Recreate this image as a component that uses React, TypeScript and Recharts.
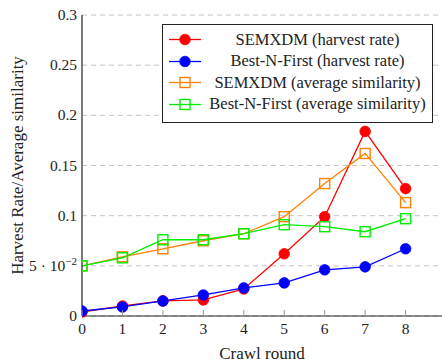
import { LineChart, Line, XAxis, YAxis, CartesianGrid, Legend, Label } from 'recharts';

// crawl rounds on the x axis
const rounds = [0, 1, 2, 3, 4, 5, 6, 7, 8];
const semxdmHarvest = [0.004, 0.01, 0.015, 0.016, 0.027, 0.062, 0.099, 0.184, 0.127];
const bnfHarvest = [0.005, 0.009, 0.015, 0.021, 0.028, 0.033, 0.046, 0.049, 0.067];
const semxdmSimilarity = [0.05, 0.059, 0.067, 0.075, 0.082, 0.099, 0.132, 0.162, 0.113];
const bnfSimilarity = [0.05, 0.058, 0.076, 0.076, 0.082, 0.091, 0.089, 0.084, 0.097];
const yTicks = [0, 0.05, 0.1, 0.15, 0.2, 0.25, 0.3];

const FONT = "'Liberation Serif', 'DejaVu Serif', serif";

const SERIES = [
  { key: 'semxdmHarvest', name: 'SEMXDM (harvest rate)', color: '#ff0000', mark: 'circle' },
  { key: 'bnfHarvest', name: 'Best-N-First (harvest rate)', color: '#0000ff', mark: 'circle' },
  { key: 'semxdmSimilarity', name: 'SEMXDM (average similarity)', color: '#ff8000', mark: 'square' },
  { key: 'bnfSimilarity', name: 'Best-N-First (average similarity)', color: '#00ee00', mark: 'square' },
];

const data = rounds.map((r, i) => ({
  round: r,
  semxdmHarvest: semxdmHarvest[i],
  bnfHarvest: bnfHarvest[i],
  semxdmSimilarity: semxdmSimilarity[i],
  bnfSimilarity: bnfSimilarity[i],
}));

function Mark({ cx, cy, color, mark }: any) {
  if (cx == null || cy == null) return null;
  if (mark === 'circle') return <circle cx={cx} cy={cy} r={5.3} fill={color} stroke={color} strokeWidth={0.8} />;
  return <rect x={cx - 5} y={cy - 5} width={10} height={10} fill="none" stroke={color} strokeWidth={1.4} />;
}

function BottomTick({ x, y, payload }: any) {
  return (
    <g>
      <line x1={x} x2={x} y1={y} y2={y - 6} stroke="#999" strokeWidth={1} />
      <text x={x} y={y + 18} textAnchor="middle" fontFamily={FONT} fontSize={15.5} fill="#222">
        {payload.value}
      </text>
    </g>
  );
}

function TopTick({ x, y }: any) {
  return <line x1={x} x2={x} y1={y} y2={y + 6} stroke="#999" strokeWidth={1} />;
}

function LeftTick({ x, y, payload }: any) {
  const v = payload.value;
  return (
    <text x={x - 5} y={y + 5} textAnchor="end" fontFamily={FONT} fontSize={15.5} fill="#222">
      {v === 0.05 ? (
        <>
          <tspan>5 · 10</tspan>
          <tspan dy={-6} fontSize={11}>−2</tspan>
        </>
      ) : (
        String(v)
      )}
    </text>
  );
}

function LegendBox() {
  return (
    <div
      style={{
        width: 269,
        height: 93,
        border: '1px solid #222',
        background: '#fff',
        paddingTop: 4,
        boxSizing: 'content-box',
        fontFamily: FONT,
        fontSize: 16.5,
        color: '#222',
      }}
    >
      {SERIES.map((s) => (
        <div key={s.key} style={{ display: 'flex', alignItems: 'center', height: 21.5 }}>
          <svg width={40} height={21} style={{ flex: 'none' }}>
            <line x1={6} x2={38} y1={10.5} y2={10.5} stroke={s.color} strokeWidth={1.3} />
            <Mark cx={22} cy={10.5} color={s.color} mark={s.mark} />
          </svg>
          <span style={{ flex: 1, textAlign: 'center', whiteSpace: 'nowrap' }}>{s.name}</span>
        </div>
      ))}
    </div>
  );
}

export default function App() {
  return (
    <div style={{ width: 442, height: 364, background: '#fff' }}>
      <style>{'body{margin:0}'}</style>
      <LineChart width={442} height={364} data={data} margin={{ top: 15, right: 0, bottom: 18, left: 22 }}>
        <CartesianGrid horizontal vertical={false} stroke="#c4c4c4" strokeDasharray="5 4" />
        <XAxis
          dataKey="round"
          type="number"
          domain={[0, 8.9]}
          ticks={rounds}
          height={30}
          tickSize={0}
          tickMargin={0}
          tickLine={false}
          tick={<BottomTick />}
          axisLine={{ stroke: '#222', strokeWidth: 1.2 }}
          allowDataOverflow
        >
          <Label
            content={({ viewBox }: any) => (
              <text
                x={viewBox.x + viewBox.width / 2}
                y={viewBox.y + viewBox.height + 13}
                textAnchor="middle"
                fontFamily={FONT}
                fontSize={17}
                fill="#222"
              >
                Crawl round
              </text>
            )}
          />
        </XAxis>
        <XAxis
          xAxisId="top"
          orientation="top"
          dataKey="round"
          type="number"
          domain={[0, 8.9]}
          ticks={rounds}
          height={0}
          tickSize={0}
          tickMargin={0}
          tickLine={false}
          tick={<TopTick />}
          axisLine={{ stroke: '#222', strokeWidth: 1.2 }}
        />
        <YAxis
          type="number"
          domain={[0, 0.3]}
          ticks={yTicks}
          width={60}
          tickSize={0}
          tickMargin={0}
          tickLine={false}
          tick={<LeftTick />}
          axisLine={{ stroke: '#222', strokeWidth: 1.2 }}
        >
          <Label
            content={({ viewBox }: any) => {
              const cx = viewBox.x - 5;
              const cy = viewBox.y + viewBox.height / 2;
              return (
                <text
                  x={cx}
                  y={cy}
                  transform={`rotate(-90 ${cx} ${cy})`}
                  textAnchor="middle"
                  dominantBaseline="central"
                  fontFamily={FONT}
                  fontSize={17}
                  fill="#222"
                >
                  Harvest Rate/Average similarity
                </text>
              );
            }}
          />
        </YAxis>
        {SERIES.map((s) => (
          <Line
            key={s.key}
            dataKey={s.key}
            name={s.name}
            stroke={s.color}
            strokeWidth={1.3}
            isAnimationActive={false}
            dot={(p: any) => <Mark key={`${s.key}-${p.index}`} cx={p.cx} cy={p.cy} color={s.color} mark={s.mark} />}
          />
        ))}
        <Legend
          layout="horizontal"
          verticalAlign="middle"
          align="center"
          wrapperStyle={{ position: 'absolute', left: 162, top: 24, width: 271 }}
          content={() => <LegendBox />}
        />
      </LineChart>
    </div>
  );
}
